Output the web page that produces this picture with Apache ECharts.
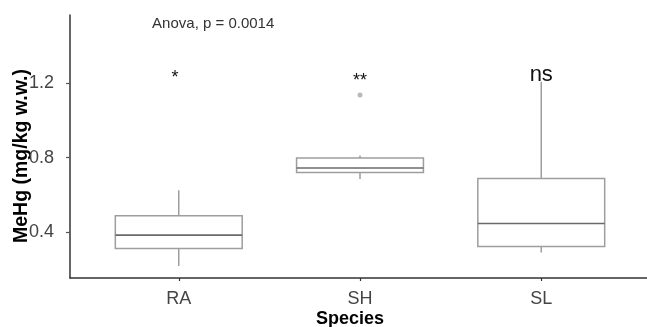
<!DOCTYPE html>
<html><head><meta charset="utf-8">
<script src="https://cdn.jsdelivr.net/npm/echarts@6/dist/echarts.min.js"></script>
<style>html,body{margin:0;padding:0;background:#fff}#c{width:647px;height:327px}</style>
</head><body><div id="c"></div>
<script>
const categories = ['RA', 'SH', 'SL'];
const categoryPos = [1, 2, 3];
const boxMin = [0.221, 0.686, 0.293];
const boxQ1 = [0.314, 0.721, 0.325];
const boxMedian = [0.386, 0.745, 0.448];
const boxQ3 = [0.489, 0.798, 0.688];
const boxMax = [0.626, 0.812, 1.205];
const outlierX = [2];
const outlierY = [1.134];
const yTicks = [0.4, 0.8, 1.2];
const signifX = [0.98, 2, 3];
const signifY = [1.225, 1.21, 1.243];
const signifLabels = ['*', '**', 'ns'];
const anovaX = [1.19];
const anovaY = [1.514];
const anovaLabel = ['Anova, p = 0.0014'];

const FONT = '"Liberation Sans", Arial, sans-serif';
const boxData = categoryPos.map((x, i) => [x, boxMin[i], boxQ1[i], boxMedian[i], boxQ3[i], boxMax[i]]);
const outlierData = outlierX.map((x, i) => [x, outlierY[i]]);
const signifData = signifX.map((x, i) => [x, signifY[i], i]);
const anovaData = anovaX.map((x, i) => [x, anovaY[i], i]);

const chart = echarts.init(document.getElementById('c'), null, {renderer: 'canvas'});
chart.setOption({
  animation: false,
  backgroundColor: '#fff',
  grid: {left: 70, right: -3, top: 15, bottom: 49, containLabel: false, outerBoundsMode: 'none'},
  xAxis: {
    type: 'value', min: 0.4, max: 3.6,
    axisLine: {show: true, lineStyle: {color: '#333', width: 1.5}},
    axisTick: {show: true, customValues: categoryPos, length: 3, lineStyle: {color: '#333', width: 1.2}},
    axisLabel: {customValues: categoryPos, formatter: v => categories[categoryPos.indexOf(v)] || '',
      fontSize: 18, color: '#444', fontFamily: FONT, margin: 12},
    splitLine: {show: false},
    name: 'Species', nameLocation: 'middle', nameGap: 32, nameMoveOverlap: false,
    nameTextStyle: {fontSize: 18, fontWeight: 'bold', color: '#000', fontFamily: FONT, padding: [0, 20, 0, 0]}
  },
  yAxis: {
    type: 'value', min: 0.157, max: 1.562,
    axisLine: {show: true, lineStyle: {color: '#333', width: 1.5}},
    axisTick: {show: true, customValues: yTicks, length: 4, lineStyle: {color: '#555', width: 1.2}},
    axisLabel: {customValues: yTicks, formatter: v => v.toFixed(1), fontSize: 18, color: '#444', fontFamily: FONT, margin: 16},
    splitLine: {show: false},
    name: 'MeHg (mg/kg w.w.)', nameLocation: 'middle', nameGap: 38, nameMoveOverlap: false,
    nameTextStyle: {fontSize: 19.5, fontWeight: 'bold', color: '#000', fontFamily: FONT, padding: [0, 19, 0, 0]}
  },
  series: [
    {
      type: 'custom', data: boxData, clip: false,
      encode: {x: 0, y: [1, 2, 3, 4, 5]},
      renderItem: function (params, api) {
        const x = api.value(0);
        const lo = api.coord([x, api.value(1)]);
        const q1 = api.coord([x, api.value(2)]);
        const md = api.coord([x, api.value(3)]);
        const q3 = api.coord([x, api.value(4)]);
        const hi = api.coord([x, api.value(5)]);
        const w = api.size([0.7, 0])[0];
        const cx = lo[0];
        const left = cx - w / 2;
        const st = {stroke: '#9e9e9e', lineWidth: 1.5};
        return {type: 'group', children: [
          {type: 'line', shape: {x1: cx, y1: hi[1], x2: cx, y2: q3[1]}, style: st},
          {type: 'line', shape: {x1: cx, y1: q1[1], x2: cx, y2: lo[1]}, style: st},
          {type: 'rect', shape: {x: left, y: q3[1], width: w, height: q1[1] - q3[1]}, style: {stroke: '#9e9e9e', lineWidth: 1.5, fill: '#fff'}},
          {type: 'line', shape: {x1: left, y1: md[1], x2: left + w, y2: md[1]}, style: {stroke: '#6a6a6a', lineWidth: 1.6}}
        ]};
      }
    },
    {
      type: 'scatter', data: outlierData, symbolSize: 5,
      itemStyle: {color: '#a8a8a8'}
    },
    {
      type: 'custom', data: signifData, clip: false,
      renderItem: function (params, api) {
        const p = api.coord([api.value(0), api.value(1)]);
        const t = signifLabels[api.value(2)];
        return {type: 'text', x: p[0], y: p[1], style: {text: t, fontSize: t === 'ns' ? 22 : 18, fontFamily: FONT,
          fill: '#111', align: 'center', verticalAlign: 'middle'}};
      }
    },
    {
      type: 'custom', data: anovaData, clip: false,
      renderItem: function (params, api) {
        const p = api.coord([api.value(0), api.value(1)]);
        return {type: 'text', x: p[0], y: p[1], style: {text: anovaLabel[api.value(2)], fontSize: 15, fontFamily: FONT,
          fill: '#333', align: 'center', verticalAlign: 'middle'}};
      }
    }
  ]
});
</script>
</body></html>
